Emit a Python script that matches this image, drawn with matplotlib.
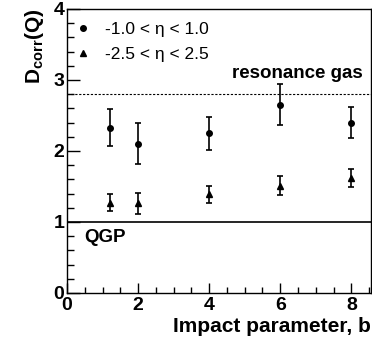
import matplotlib.pyplot as plt
from matplotlib.ticker import MultipleLocator

plt.rcParams['font.family'] = ['Liberation Sans', 'DejaVu Sans']
plt.rcParams['mathtext.fontset'] = 'custom'
plt.rcParams['mathtext.rm'] = 'Liberation Sans'
plt.rcParams['mathtext.bf'] = 'Liberation Sans:bold'

# punkty: |eta| < 1.0
b1 = [1.2, 2, 4, 6, 8]
d1 = [2.33, 2.10, 2.25, 2.65, 2.40]
e1 = [0.26, 0.29, 0.23, 0.29, 0.22]

# punkty: |eta| < 2.5
b2 = [1.2, 2, 4, 6, 8]
d2 = [1.27, 1.26, 1.39, 1.51, 1.62]
e2 = [0.12, 0.15, 0.12, 0.13, 0.13]

res_gas = 2.8
qgp = 1.0

fig = plt.figure(figsize=(3.72, 3.45), dpi=100)
ax = fig.add_axes([0.180, 0.151, 0.817, 0.823])

ax.errorbar(b1, d1, yerr=e1, fmt='none', ecolor='black', capsize=2.5,
            elinewidth=1.2, capthick=1.2)
ax.errorbar(b2, d2, yerr=e2, fmt='none', ecolor='black', capsize=2,
            elinewidth=1.2, capthick=1.2)
ax.plot(b1, d1, 'o', color='black', ms=4, label='-1.0 < η < 1.0')
ax.plot(b2, d2, '^', color='black', ms=4, label='-2.5 < η < 2.5')

ax.axhline(res_gas, color='black', ls=(0, (2, 1.5)), lw=0.8)
ax.axhline(qgp, color='black', lw=1.2)

ax.text(8.33, 2.97, 'resonance gas', ha='right', va='bottom',
        fontsize=13.5, fontweight='bold')
ax.text(0.5, 0.9, 'QGP', ha='left', va='top', fontsize=13.5, fontweight='bold')

ax.set_xlim(0, 8.55)
ax.set_ylim(0, 4)
ax.xaxis.set_major_locator(MultipleLocator(2))
ax.xaxis.set_minor_locator(MultipleLocator(0.5))
ax.yaxis.set_major_locator(MultipleLocator(1))
ax.yaxis.set_minor_locator(MultipleLocator(0.2))
ax.tick_params(which='both', direction='in', top=False, right=False)
ax.tick_params(axis='y', which='major', length=9, width=1)
ax.tick_params(axis='y', which='minor', length=5, width=1)
ax.tick_params(axis='x', which='major', length=7, width=1)
ax.tick_params(axis='x', which='minor', length=4, width=1)
ax.tick_params(axis='both', labelsize=14)
ax.tick_params(axis='x', pad=3)
ax.tick_params(axis='y', pad=2)
for lab in ax.get_xticklabels() + ax.get_yticklabels():
    lab.set_fontweight('bold')
for s in ax.spines.values():
    s.set_linewidth(1)

ax.set_xlabel('Impact parameter, b', loc='right', fontsize=15, fontweight='bold',
              labelpad=2)
ax.set_ylabel(r'$\mathbf{D}_{\mathbf{corr}}$(Q)', loc='top', fontsize=15,
              fontweight='bold', labelpad=5)

leg = ax.legend(loc='upper left', bbox_to_anchor=(0, 0.985), frameon=False,
                fontsize=12.5, handlelength=0.8, handletextpad=0.9,
                borderaxespad=0.2, borderpad=0.3, labelspacing=0.55)

fig.savefig('out.png', dpi=100)
